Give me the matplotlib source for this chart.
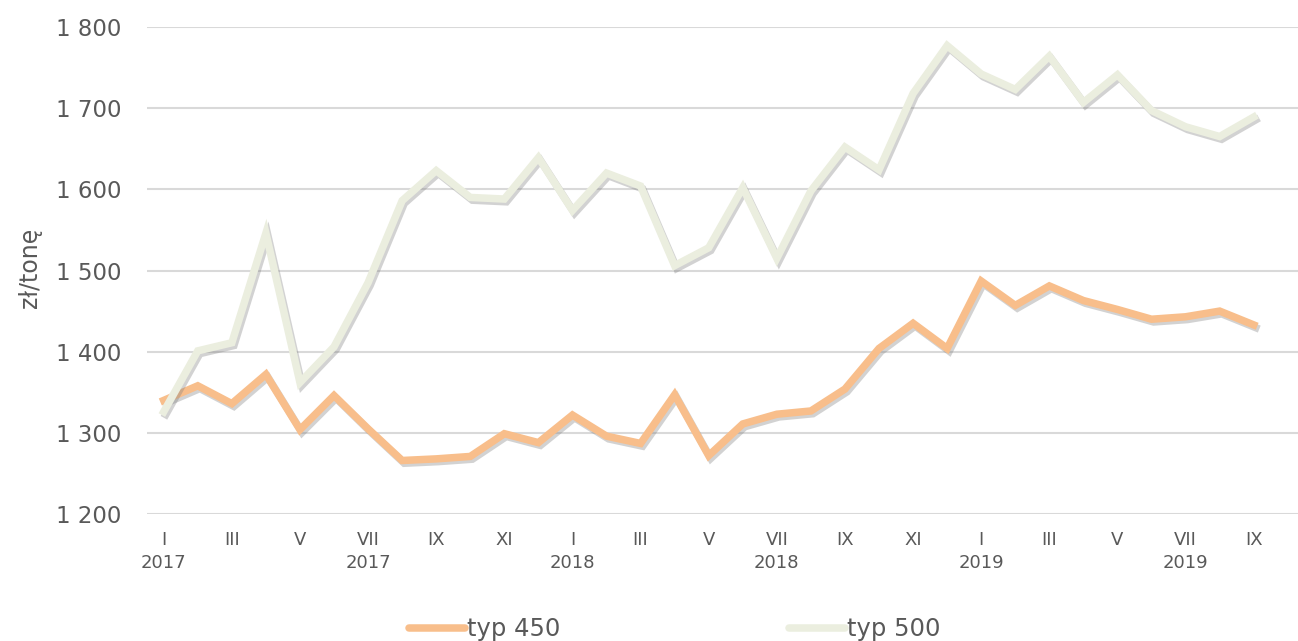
import numpy as np
import matplotlib
matplotlib.use('Agg')
import matplotlib.pyplot as plt
import matplotlib.patheffects as pe

# monthly prices, I 2017 .. IX 2019 (zł/tonę)
months = ['I', 'II', 'III', 'IV', 'V', 'VI', 'VII', 'VIII', 'IX', 'X', 'XI', 'XII']
years = [2017, 2018, 2019]
typ_450 = [1340, 1358, 1336, 1372, 1304, 1346, 1305, 1266, 1268, 1271, 1299, 1288,
           1322, 1296, 1287, 1347, 1272, 1311, 1323, 1327, 1354, 1404, 1435, 1404,
           1487, 1457, 1481, 1463, 1452, 1440, 1443, 1450, 1433]
typ_500 = [1326, 1401, 1411, 1546, 1362, 1406, 1485, 1586, 1623, 1590, 1588, 1639,
           1574, 1620, 1604, 1506, 1528, 1602, 1515, 1598, 1652, 1624, 1718, 1777,
           1742, 1723, 1764, 1707, 1741, 1697, 1677, 1665, 1689]
yticks = [1200, 1300, 1400, 1500, 1600, 1700, 1800]

n = len(typ_450)
x = np.arange(n)
labels = []
for i in range(n):
    m = months[i % 12]
    y = years[i // 12]
    labels.append(f'{m}\n{y}' if m in ('I', 'VII') else m)

txt = '#595959'
fig = plt.figure(figsize=(12.98, 6.41), dpi=100)
ax = fig.add_axes([0.113, 0.198, 0.887, 0.760])

shadow = [pe.SimpleLineShadow(offset=(1.5, -2), shadow_color='#808080', alpha=0.35),
          pe.Normal()]
ax.plot(x, typ_450, color='#F8BE8B', linewidth=5.4, label='typ 450',
        solid_joinstyle='miter', path_effects=shadow, zorder=3)
ax.plot(x, typ_500, color='#EBEEDF', linewidth=5.4, label='typ 500',
        solid_joinstyle='miter', path_effects=shadow, zorder=3)

ax.set_ylim(1200, 1800)
ax.set_xlim(-0.5, 33.3)
ax.set_yticks(yticks)
ax.set_yticklabels([f'{v // 1000} {v % 1000:03d}' for v in yticks])
ax.set_xticks(x[::2])
ax.set_xticklabels(labels[::2], linespacing=1.35)

ax.grid(axis='y', color='#D9D9D9', linewidth=1.5)
ax.set_axisbelow(True)
for s in ax.spines.values():
    s.set_visible(False)
ax.tick_params(axis='y', length=0, pad=18, labelsize=16.5, labelcolor=txt)
ax.tick_params(axis='x', length=0, pad=12, labelsize=13, labelcolor=txt)
for lbl in ax.get_xticklabels():
    lbl.set_verticalalignment('top')
ax.set_ylabel('zł/tonę', fontsize=17, color=txt)
ax.yaxis.set_label_coords(-0.091, 0.505)

leg = fig.legend(loc='center', bbox_to_anchor=(0.52, 0.018), ncol=2, frameon=False,
                 fontsize=17.5, handlelength=2.3, handletextpad=0.1, columnspacing=9.4)
for t in leg.get_texts():
    t.set_color(txt)
for h in leg.legend_handles:
    h.set_path_effects([])
    h.set_solid_capstyle('round')

fig.savefig('out.png', dpi=100)
